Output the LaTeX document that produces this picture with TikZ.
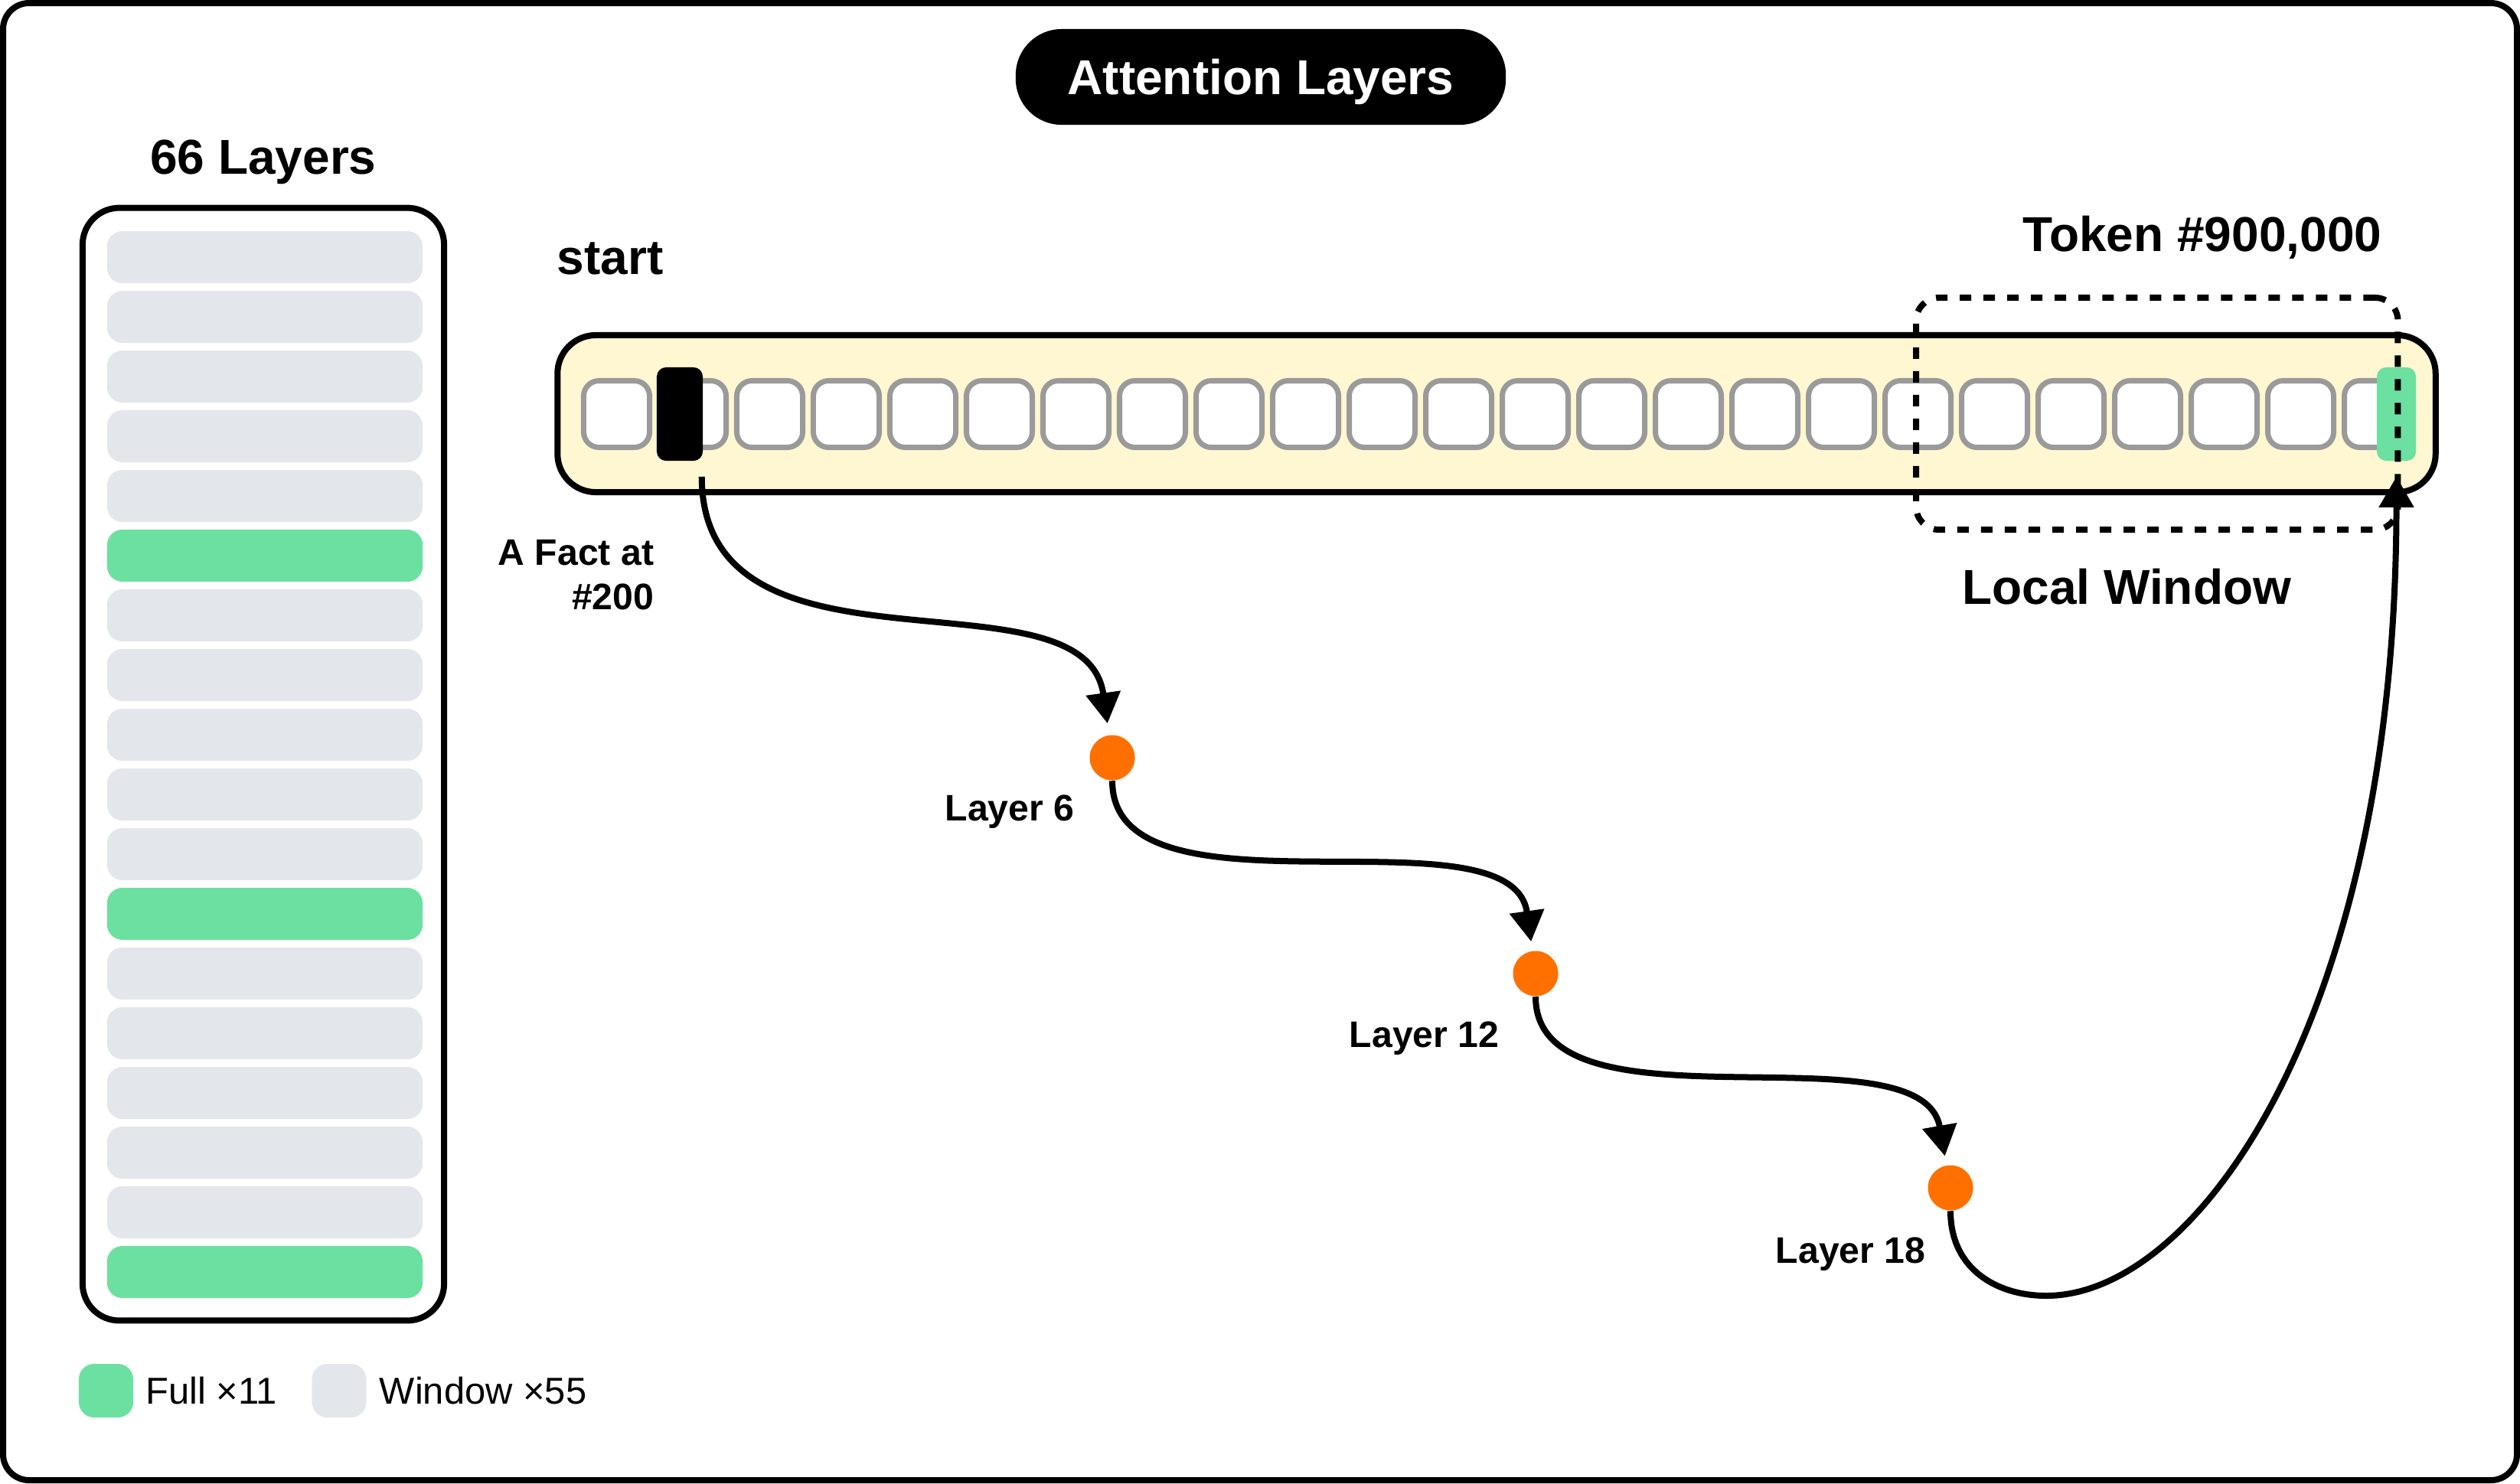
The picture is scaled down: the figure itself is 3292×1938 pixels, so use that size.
\documentclass[tikz,border=0pt]{standalone}
\usepackage{fontspec}
\setmainfont{Liberation Sans}
\usetikzlibrary{arrows.meta,positioning,calc}
\definecolor{fullgreen}{HTML}{6CE0A0}
\definecolor{windowgrey}{HTML}{E3E6EB}
\definecolor{seqcream}{HTML}{FFF7D1}
\definecolor{hoporange}{HTML}{FF7000}
\definecolor{tokgrey}{HTML}{9A9A9A}
\tikzset{
	layerbar/.style={rounded corners=0.2cm,minimum width=4.12cm,minimum height=0.68cm,inner sep=0pt},
	keybox/.style={rounded corners=0.2cm,minimum width=0.71cm,minimum height=0.7cm,inner sep=0pt},
	tokbox/.style={draw=tokgrey,fill=white,line width=0.07cm,rounded corners=0.2cm,minimum width=0.86cm,minimum height=0.87cm,inner sep=0pt},
	hop/.style={circle,fill=hoporange,minimum size=0.59cm,inner sep=0pt},
	flow/.style={line width=0.08cm,-{Triangle[length=0.4cm,width=0.44cm]}},
	big/.style={font=\fontsize{18.2}{22}\selectfont\bfseries,inner sep=0pt},
	small/.style={font=\fontsize{13.7}{16.5}\selectfont\bfseries,inner sep=0pt},
	legend/.style={font=\fontsize{13.9}{16.5}\selectfont,inner sep=0pt},
}
\begin{document}
\begin{tikzpicture}[x=0.01cm,y=-0.01cm,declare function={p=100;g=78;}]
	\useasboundingbox (0,0) rectangle (3292,1938);
	\draw[line width=0.08cm,rounded corners=0.34cm] (4,4) rectangle (3288,1934);
	\node[big,fill=black,text=white,rounded corners=0.6cm,minimum width=6.4cm,minimum height=1.25cm,text height=0.46cm,text depth=0pt] (title) at (1647,100.5) {Attention Layers};
	\node[big,anchor=base] (stacktitle) at (344,227) {66 Layers};
	\node[draw,line width=0.08cm,rounded corners=0.48cm,minimum width=4.72cm,minimum height=14.53cm] (stack) at (344,998.5) {};
	\foreach \i in {0,...,17}{
		\pgfmathsetmacro{\barcol}{ifthenelse(mod(\i,6)==5,"fullgreen","windowgrey")}
		\node[layerbar,fill=\barcol] (bar\i) at (346,336+g*\i) {};
	}
	\node[keybox,fill=fullgreen] (fullkey) at (138.5,1817) {};
	\node[legend,right=0.15cm of fullkey] (fulltext) {Full ×11};
	\node[keybox,fill=windowgrey] (windowkey) at (443,1817) {};
	\node[legend,right=0.16cm of windowkey] (windowtext) {Window ×55};
	\node[draw,fill=seqcream,line width=0.08cm,rounded corners=0.5cm,minimum width=24.52cm,minimum height=2.05cm] (seq) at (1955,540.5) {};
	\node[big,anchor=base west] (start) at (727,358) {start};
	\foreach \i in {0,...,23}
		\node[tokbox] (tok\i) at (805.5+p*\i,541) {};
	\node[fill=black,rounded corners=0.12cm,minimum width=0.6cm,minimum height=1.22cm,inner sep=0pt] (fact) at (888,541) {};
	\node[fill=fullgreen,rounded corners=0.12cm,minimum width=0.51cm,minimum height=1.22cm,inner sep=0pt] (query) at (3130.5,541) {};
	\node[draw,line width=0.08cm,dash pattern=on 0.15cm off 0.16cm,rounded corners=0.3cm,minimum width=6.29cm,minimum height=3.03cm] (window) at (2817.75,540.5) {};
	\node[big,anchor=base] (tokenlabel) at (2877,328) {Token \#900,000};
	\node[big,anchor=base] (windowlabel) at (2778,789) {Local Window};
	\node[small,anchor=base east] (facta) at (855,738) {A Fact at};
	\node[small,anchor=base east] (factb) at (855,796) {\#200};
	\node[hop] (hop6) at (1453,990) {};
	\node[hop] (hop12) at (2006,1272) {};
	\node[hop] (hop18) at (2548,1552) {};
	\node[small,anchor=base east] (lab6) at (1404,1072) {Layer 6};
	\node[small,anchor=base east] (lab12) at (1959,1368) {Layer 12};
	\node[small,anchor=base east] (lab18) at (2516,1650) {Layer 18};
	\coordinate (factout) at ($(fact.south east)+(-2,20)$);
	\coordinate (dip) at (2673,1693);
	\draw[flow,shorten >=0.15cm] (factout) to[out=-90,in=98,out distance=2.85cm,in distance=2.27cm] (hop6);
	\draw[flow,shorten >=0.12cm] (hop6.south) to[out=-90,in=98,out distance=1.94cm,in distance=1.94cm] (hop12);
	\draw[flow,shorten >=0.12cm] (hop12.south) to[out=-90,in=100,out distance=1.88cm,in distance=1.88cm] (hop18);
	\draw[flow,shorten >=0.2cm] (hop18.south) to[out=-90,in=180,out distance=0.77cm,in distance=0.63cm] (dip) to[out=0,in=-90,out distance=2cm,in distance=7.2cm] (query);
\end{tikzpicture}
\end{document}
